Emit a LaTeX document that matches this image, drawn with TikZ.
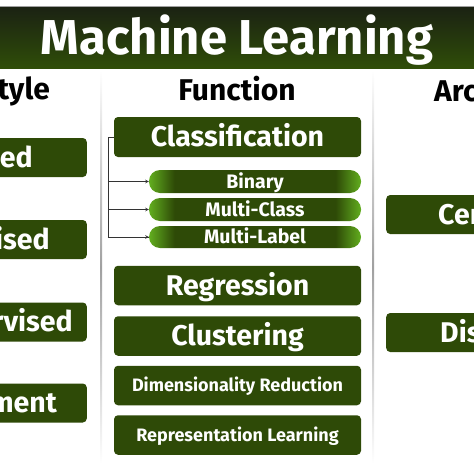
\documentclass[tikz,border=0pt]{standalone}
\usepackage{fontspec}
\setmainfont{Fira Sans}
\usepackage{xcolor}
\usepackage{tikz}
\usetikzlibrary{positioning}
\definecolor{MLDark}{HTML}{2E4A07}
\definecolor{MLLight}{HTML}{62AE1F}
\definecolor{MLTop}{HTML}{1B2213}
\definecolor{MLBottom}{HTML}{2F4D08}
\definecolor{MLLine}{HTML}{A0A0A0}
\pgfdeclarehorizontalshading{pillshade}{100bp}{color(0bp)=(MLLight); color(25bp)=(MLLight); color(31bp)=(MLDark); color(69bp)=(MLDark); color(75bp)=(MLLight); color(100bp)=(MLLight)}

\begin{document}
\begin{tikzpicture}[x=1pt,y=-1pt,
  mlbox/.style={fill=MLDark,rounded corners=4pt,text=white,inner sep=0pt,minimum width=247pt},
  bigtxt/.style={text=white,inner sep=0pt,font=\bfseries\fontsize{28.5}{28.5}\selectfont,text height=19.6pt,text depth=0pt},
  midtxt/.style={text=white,inner sep=0pt,font=\bfseries\fontsize{18}{18}\selectfont,text height=12.4pt,text depth=0pt},
  subbox/.style={shade,shading=pillshade,rounded corners=11pt,text=white,inner sep=0pt,minimum width=212pt,font=\bfseries\fontsize{19.5}{19.5}\selectfont,text height=13.4pt,text depth=0pt},
  head/.style={inner sep=0pt,font=\bfseries\fontsize{30}{30}\selectfont},
  conn/.style={draw=black!80,line width=0.6pt}]
\useasboundingbox (0,0) rectangle (474,474);
\clip (0,0) rectangle (474,474);
% title band
\shade[top color=MLTop,bottom color=MLBottom] (-1,7) rectangle (475,68);
\draw[MLLine,line width=1pt] (-1,6.5) -- (475,6.5);
\node[anchor=base,text=white,inner sep=0pt,font=\bfseries\fontsize{49}{49}\selectfont] (title) at (237,54) {Machine Learning};
% column headers
\node[head,anchor=base east] (hstyle) at (50,99) {Style};
\node[head,anchor=base] (hfunc) at (237,100) {Function};
\node[head,anchor=base west] (harch) at (434,101) {Arc};
% separators
\shade[top color=white,bottom color=white,middle color=MLLine] (100,70) rectangle (102.2,464);
\shade[top color=white,bottom color=white,middle color=MLLine] (372,70) rectangle (374.2,464);
% learning style column
\foreach \n/\y/\t/\e in {lsup/157.5/sed/33,luns/239.5/ised/50,lsemi/322/rvised/73,lrein/403/ment/57} {
  \node[mlbox,minimum width=150pt,minimum height=39pt,anchor=east] (\n) at (87,\y) {};
  \node[bigtxt,anchor=east] (\n-t) at (\e,\y) {\t};
}
% function column
\node[mlbox,bigtxt,minimum height=40pt] (cls) at (237.5,137) {Classification};
\node[subbox,minimum height=23pt] (bin) at (255,181.5) {Binary};
\node[subbox,minimum height=23pt] (mcl) at (255,209.5) {Multi-Class};
\node[subbox,minimum height=22pt] (mlab) at (255,237) {Multi-Label};
\coordinate[left=6pt of cls.west] (trunk);
\draw[conn] (cls.west) -- (trunk) |- (mlab.west);
\foreach \s in {bin,mcl,mlab}
  \draw[conn,-stealth] (trunk |- \s.west) -- (\s.west);
\node[mlbox,bigtxt,minimum height=39.5pt] (reg) at (237.5,285.5) {Regression};
\node[mlbox,bigtxt,minimum height=39.5pt] (clu) at (237.5,336) {Clustering};
\node[mlbox,midtxt,minimum height=39.5pt] (dim) at (237.5,385.5) {Dimensionality Reduction};
\node[mlbox,midtxt,minimum height=39.5pt] (rep) at (237.5,435) {Representation Learning};
% architecture column
\node[mlbox,minimum width=150pt,minimum height=39pt,anchor=west] (rcen) at (386,214.5) {};
\node[bigtxt,anchor=west] (rcen-t) at (438,214.5) {Cer};
\node[mlbox,minimum width=150pt,minimum height=39pt,anchor=west] (rdis) at (386,332.5) {};
\node[bigtxt,anchor=west] (rdis-t) at (440,332.5) {Dis};
\end{tikzpicture}
\end{document}
